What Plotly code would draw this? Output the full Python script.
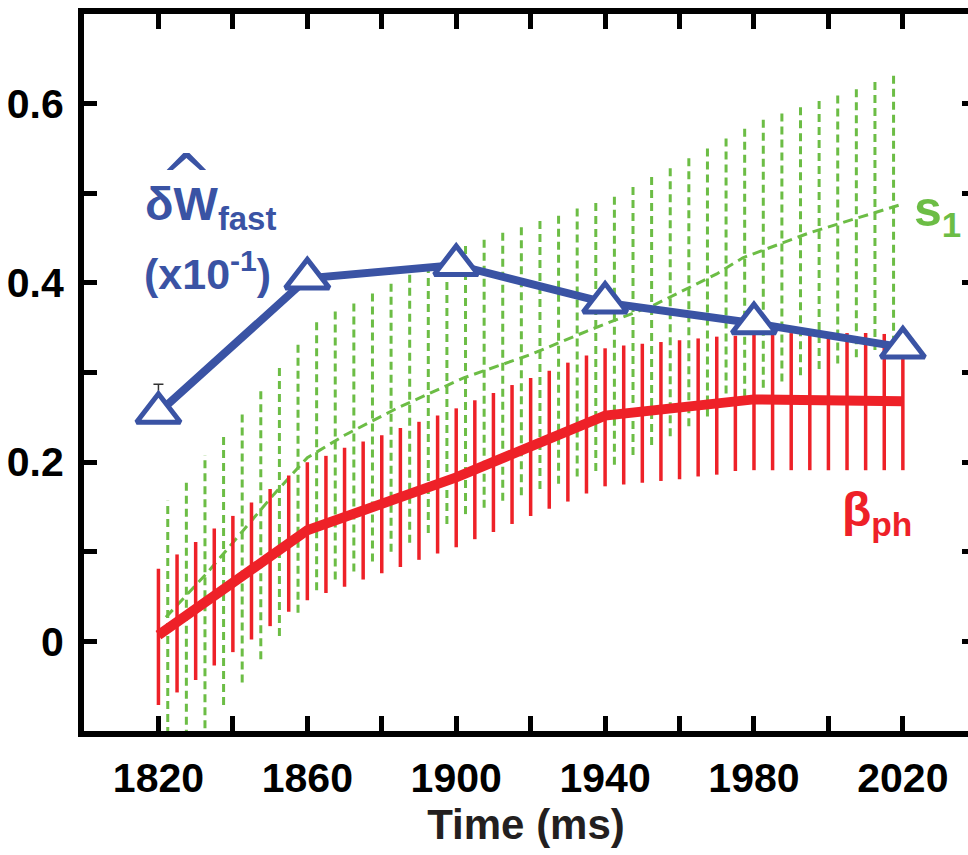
import plotly.graph_objects as go

# ---------------- data ----------------
blue_t = [1820, 1860, 1900, 1940, 1980, 2020]
blue_v = [0.255, 0.405, 0.420, 0.378, 0.355, 0.328]
blue_err = [0.032, 0, 0, 0, 0, 0]

red_t = [1820, 1860, 1900, 1940, 1980, 2020]
red_v = [0.007, 0.124, 0.183, 0.252, 0.270, 0.268]

red_bar_t = [1820, 1825, 1830, 1835, 1840, 1845, 1850, 1855, 1860, 1865,
             1870, 1875, 1880, 1885, 1890, 1895, 1900, 1905, 1910, 1915,
             1920, 1925, 1930, 1935, 1940, 1945, 1950, 1955, 1960, 1965,
             1970, 1975, 1980, 1985, 1990, 1995, 2000, 2005, 2010, 2015, 2020]
red_bar_hi = [0.081, 0.097, 0.111, 0.126, 0.140, 0.155, 0.170, 0.185, 0.200, 0.207,
              0.216, 0.223, 0.230, 0.238, 0.245, 0.252, 0.260, 0.269, 0.277, 0.286,
              0.294, 0.302, 0.311, 0.319, 0.327, 0.330, 0.332, 0.334, 0.336, 0.338,
              0.340, 0.341, 0.343, 0.344, 0.344, 0.344, 0.344, 0.344, 0.344, 0.343, 0.343]
red_bar_lo = [-0.071, -0.057, -0.043, -0.027, -0.012, 0.002, 0.017, 0.033, 0.046, 0.054,
              0.061, 0.069, 0.076, 0.083, 0.091, 0.098, 0.105, 0.114, 0.122, 0.131,
              0.140, 0.148, 0.156, 0.165, 0.173, 0.175, 0.177, 0.179, 0.181, 0.184,
              0.186, 0.190, 0.191, 0.191, 0.191, 0.191, 0.191, 0.191, 0.191, 0.191, 0.191]

green_t = [1822, 1833, 1842, 1851, 1860, 1870, 1884, 1902, 1920, 1935,
           1953, 1970, 1977, 1995, 2020]
green_v = [0.027, 0.076, 0.120, 0.164, 0.205, 0.230, 0.260, 0.294, 0.320, 0.346,
           0.375, 0.410, 0.428, 0.456, 0.488]

green_bar_t = [1822.5, 1827.5, 1832.5, 1837.5, 1842.5, 1847.5, 1852.5, 1857.5, 1862.5, 1867.5,
               1872.5, 1877.5, 1882.5, 1887.5, 1892.5, 1897.5, 1902.5, 1907.5, 1912.5, 1917.5,
               1922.5, 1927.5, 1932.5, 1937.5, 1942.5, 1947.5, 1952.5, 1957.5, 1962.5, 1967.5,
               1972.5, 1977.5, 1982.5, 1987.5, 1992.5, 1997.5, 2002.5, 2007.5, 2012.5, 2017.5]
green_bar_hi = [0.157, 0.182, 0.208, 0.233, 0.258, 0.284, 0.310, 0.336, 0.361, 0.370,
                0.381, 0.392, 0.402, 0.413, 0.423, 0.434, 0.445, 0.451, 0.458, 0.465,
                0.472, 0.478, 0.485, 0.492, 0.499, 0.509, 0.520, 0.530, 0.542, 0.553,
                0.564, 0.575, 0.585, 0.592, 0.599, 0.606, 0.612, 0.619, 0.627, 0.634]
green_bar_lo = [-0.148, -0.122, -0.097, -0.071, -0.046, -0.020, 0.006, 0.032, 0.057, 0.069,
                0.078, 0.089, 0.100, 0.110, 0.121, 0.131, 0.142, 0.149, 0.157, 0.163,
                0.170, 0.176, 0.184, 0.190, 0.197, 0.208, 0.219, 0.229, 0.240, 0.251,
                0.262, 0.273, 0.283, 0.290, 0.297, 0.304, 0.310, 0.317, 0.325, 0.332]

# ---------------- styles ----------------
BLUE = "#3a53a4"
RED = "#ee2128"
GREEN = "#6cbd45"
FONT = "Liberation Sans, Arial, Helvetica, sans-serif"


def segments(ts, lo, hi):
    xs, ys = [], []
    for t, a, b in zip(ts, lo, hi):
        xs += [t, t, None]
        ys += [a, b, None]
    return xs, ys


fig = go.Figure()

gx, gy = segments(green_bar_t, green_bar_lo, green_bar_hi)
fig.add_trace(go.Scatter(x=gx, y=gy, mode="lines", showlegend=False,
                         line=dict(color=GREEN, width=3, dash="8px,5px")))
fig.add_trace(go.Scatter(x=green_t, y=green_v, mode="lines", showlegend=False,
                         line=dict(color=GREEN, width=3, dash="10px,6px")))

rx, ry = segments(red_bar_t, red_bar_lo, red_bar_hi)
fig.add_trace(go.Scatter(x=rx, y=ry, mode="lines", showlegend=False,
                         line=dict(color=RED, width=3.5)))
fig.add_trace(go.Scatter(x=red_t, y=red_v, mode="lines", showlegend=False,
                         line=dict(color=RED, width=10)))

fig.add_trace(go.Scatter(x=blue_t, y=blue_v, mode="lines+markers", showlegend=False,
                         line=dict(color=BLUE, width=8),
                         error_y=dict(type="data", array=blue_err, symmetric=False,
                                      arrayminus=[0] * len(blue_err),
                                      color="#333333", thickness=1.5, width=5),
                         marker=dict(symbol="triangle-up", size=38, color="white",
                                     line=dict(color=BLUE, width=5))))

# dummy trace for right-side tick axis
fig.add_trace(go.Scatter(x=[None], y=[None], yaxis="y2", showlegend=False))

ann_font = dict(family=FONT, weight="bold")
fig.add_annotation(x=1815.8, y=0.485, xref="x", yref="y", xanchor="left", yanchor="middle",
                   text="δW<sub>fast</sub>", showarrow=False,
                   font=dict(size=47, color=BLUE, **ann_font))
fig.add_annotation(x=1827.6, y=0.518, xref="x", yref="y", xanchor="center", yanchor="middle",
                   text="^", showarrow=False,
                   font=dict(size=63, color=BLUE, family="DejaVu Sans"))
fig.add_annotation(x=1815.5, y=0.413, xref="x", yref="y", xanchor="left", yanchor="middle",
                   text="(x10<sup>-1</sup>)", showarrow=False,
                   font=dict(size=43, color=BLUE, **ann_font))
fig.add_annotation(x=2022.4, y=0.479, xref="x", yref="y", xanchor="left", yanchor="middle",
                   text="s<sub>1</sub>", showarrow=False,
                   font=dict(size=50, color=GREEN, **ann_font))
fig.add_annotation(x=2003.1, y=0.143, xref="x", yref="y", xanchor="left", yanchor="middle",
                   text="β<sub>ph</sub>", showarrow=False,
                   font=dict(size=48, color=RED, **ann_font))

tickfont = dict(family=FONT, size=41, color="black", weight="bold")

fig.update_layout(
    width=968, height=855,
    margin=dict(l=84, r=0, t=14, b=124),
    paper_bgcolor="white", plot_bgcolor="white",
    xaxis=dict(range=[1800, 2037.5], showline=True, linewidth=6, linecolor="black",
               mirror="allticks", ticks="inside", ticklen=15, tickwidth=5, tickcolor="black",
               tick0=1820, dtick=40, showgrid=False, zeroline=False, tickfont=tickfont,
               automargin=False, ticklabelstandoff=6,
               minor=dict(tick0=1800, dtick=20, ticks="inside", ticklen=15, tickwidth=5,
                          tickcolor="black", showgrid=False),
               title=dict(text="Time (ms)", font=dict(family=FONT, size=42, color="#231f20",
                                                      weight="bold"), standoff=10)),
    yaxis=dict(range=[-0.1, 0.7], showline=True, linewidth=6, linecolor="black",
               mirror=False, ticks="inside", ticklen=13, tickwidth=5, tickcolor="black",
               tick0=0, dtick=0.2, showgrid=False, zeroline=False, tickfont=tickfont,
               automargin=False, ticklabelstandoff=6,
               minor=dict(tick0=0, dtick=0.1, ticks="inside", ticklen=13, tickwidth=5,
                          tickcolor="black", showgrid=False)),
    yaxis2=dict(range=[-0.1, 0.7], overlaying="y", side="right", showline=False,
                ticks="inside", ticklen=6, tickwidth=5, tickcolor="black", automargin=False,
                tick0=0, dtick=0.1, showticklabels=False, showgrid=False, zeroline=False),
)

fig.write_html("out.html")
